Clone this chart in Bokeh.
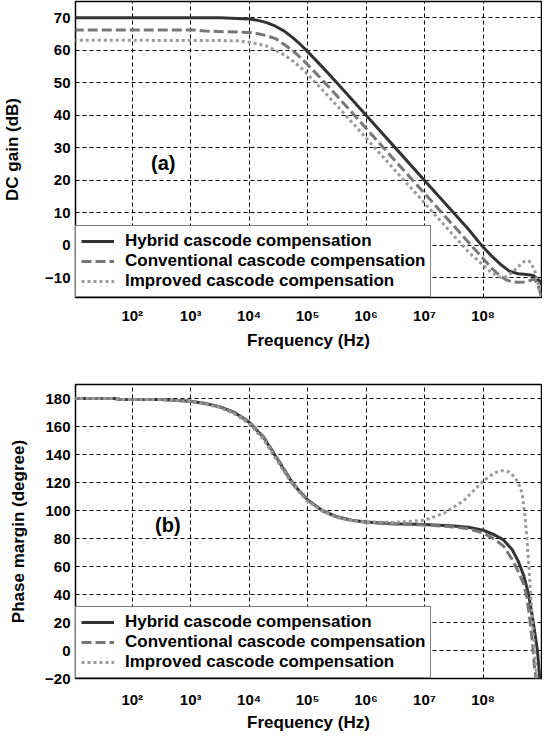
import numpy as np
from bokeh.plotting import figure
from bokeh.layouts import column
from bokeh.models import Range1d, FixedTicker, Label
from bokeh.embed import file_html
from bokeh.resources import INLINE

# ---------------- data ----------------
# x values are log10(frequency / Hz)
gain_hyb_logf = [1.0, 2.0, 3.0, 3.5, 3.8, 4.0, 4.15, 4.3, 4.45, 4.6, 4.75, 4.9, 5.0, 5.25, 5.5, 5.75,
                 6.0, 6.5, 7.0, 7.5, 7.75, 8.0, 8.15, 8.3, 8.45, 8.6, 8.75, 8.85, 8.92, 8.97, 9.0]
gain_hyb = [70.0, 70.0, 70.0, 70.0, 69.8, 69.6, 69.2, 68.5, 67.4, 65.9, 63.8, 61.4, 59.6, 54.9, 50.0, 45.0,
            40.0, 30.0, 20.0, 10.0, 5.0, -0.5, -3.3, -5.8, -7.9, -8.7, -8.9, -9.2, -10.0, -11.0, -12.0]

gain_conv_logf = [1.0, 3.1, 3.25, 4.0, 4.15, 4.3, 4.45, 4.6, 4.75, 4.9, 5.0, 5.25, 5.5, 5.75, 6.0, 6.5,
                  7.0, 7.5, 7.75, 8.0, 8.15, 8.3, 8.4, 8.5, 8.6, 8.7, 8.8, 8.87, 8.93, 8.97, 9.0]
gain_conv = [66.2, 66.2, 65.9, 65.5, 65.1, 64.5, 63.6, 61.8, 59.8, 57.4, 55.6, 50.9, 46.0, 41.0, 36.0, 26.0,
             16.0, 6.0, 1.0, -4.0, -7.0, -9.5, -10.6, -11.2, -11.3, -11.2, -10.8, -10.3, -11.5, -14.0, -16.0]

gain_imp_logf = [1.0, 3.5, 3.8, 4.0, 4.15, 4.3, 4.45, 4.6, 4.75, 4.9, 5.0, 5.25, 5.5, 5.75, 6.0, 6.5,
                 7.0, 7.5, 7.75, 8.0, 8.15, 8.3, 8.4, 8.5, 8.6, 8.7, 8.76, 8.82, 8.88, 8.94, 8.98, 9.0]
gain_imp = [63.1, 63.0, 62.9, 62.5, 62.0, 61.3, 60.0, 58.6, 56.7, 54.4, 52.6, 47.9, 43.0, 38.0, 33.0, 23.0,
            13.0, 3.0, -2.0, -6.0, -8.5, -9.8, -9.6, -8.3, -6.5, -5.0, -4.6, -5.3, -7.5, -11.5, -15.0, -17.0]

phase_hyb_logf = [1.0, 1.7, 1.8, 2.5, 3.0, 3.25, 3.5, 3.75, 4.0, 4.25, 4.5, 4.75, 5.0, 5.25, 5.5, 5.75,
                  6.0, 6.5, 7.0, 7.5, 7.75, 8.0, 8.2, 8.35, 8.5, 8.6, 8.7, 8.78, 8.86, 8.93, 8.97, 9.0]
phase_hyb = [180.0, 180.0, 179.3, 179.2, 178.0, 176.5, 174.0, 170.0, 163.0, 152.0, 135.5, 119.0, 107.5, 100.0,
             95.5, 93.0, 91.8, 90.6, 90.0, 89.0, 88.0, 86.0, 82.5, 79.0, 72.0, 64.0, 53.0, 40.0, 20.0, 0.0, -20.0, -30.0]

phase_conv_logf = [1.0, 1.7, 1.8, 2.5, 3.0, 3.25, 3.5, 3.75, 4.0, 4.25, 4.5, 4.75, 5.0, 5.25, 5.5, 5.75,
                   6.0, 6.5, 7.0, 7.5, 7.75, 8.0, 8.2, 8.35, 8.5, 8.6, 8.7, 8.75, 8.8, 8.85, 8.88, 8.92]
phase_conv = [180.0, 180.0, 179.3, 179.2, 178.0, 176.5, 174.0, 170.0, 163.5, 152.5, 136.0, 119.5, 107.5, 100.0,
              95.5, 93.0, 91.5, 90.3, 89.7, 88.3, 87.0, 84.0, 79.5, 74.5, 65.0, 56.5, 47.0, 38.0, 22.0, 4.0, -12.0, -25.0]

phase_imp_logf = [1.0, 1.7, 1.8, 2.5, 3.0, 3.25, 3.5, 3.75, 4.0, 4.25, 4.5, 4.75, 5.0, 5.25, 5.5, 5.75,
                  6.0, 6.5, 7.0, 7.33, 7.67, 8.0, 8.2, 8.33, 8.45, 8.55, 8.62, 8.67, 8.72, 8.76, 8.8, 8.84, 8.88, 8.92, 8.95]
phase_imp = [180.0, 180.0, 179.3, 179.2, 177.8, 176.0, 173.5, 169.0, 162.0, 150.5, 134.0, 118.0, 106.5, 99.5,
             95.0, 92.8, 91.8, 91.5, 93.0, 98.0, 107.0, 121.0, 127.0, 128.5, 127.5, 123.5, 118.0, 112.0, 95.0, 75.0,
             50.0, 25.0, 0.0, -20.0, -30.0]

series_names = ["Hybrid cascode compensation", "Conventional cascode compensation", "Improved cascode compensation"]
x_ticks = [100, 1000, 10**4, 10**5, 10**6, 10**7, 10**8]
x_tick_labels = ["10\u00b2", "10\u00b3", "10\u2074", "10\u2075", "10\u2076", "10\u2077", "10\u2078"]
gain_ticks = [-10, 0, 10, 20, 30, 40, 50, 60, 70]
phase_ticks = [-20, 0, 20, 40, 60, 80, 100, 120, 140, 160, 180]

# ---------------- styles ----------------
FONT = "Liberation Sans"
styles = [
    dict(line_color="#333333", line_width=3, line_dash="solid"),
    dict(line_color="#777777", line_width=3, line_dash="10 4"),
    dict(line_color="#9a9a9a", line_width=3, line_dash="3 3"),
]


def make_fig(height, mb_left, mb_top, mb_bottom, y_range, y_ticks, ylabel, xlabel_standoff, ticklabel_standoff):
    p = figure(width=542, height=height, x_axis_type="log",
               x_range=Range1d(10 ** 1.03, 1e9), y_range=Range1d(*y_range),
               output_backend="svg", toolbar_location=None,
               min_border_left=mb_left, min_border_right=1, min_border_top=mb_top, min_border_bottom=mb_bottom)
    p.background_fill_color = None
    p.border_fill_color = None
    p.outline_line_color = "black"
    p.outline_line_width = 1.5
    p.outline_line_alpha = 1.0

    xt = FixedTicker(ticks=x_ticks, minor_ticks=[])
    yt = FixedTicker(ticks=y_ticks, minor_ticks=[])
    p.xaxis.ticker = xt
    p.yaxis.ticker = yt
    p.xgrid.ticker = xt
    p.ygrid.ticker = yt
    p.xaxis.major_label_overrides = dict(zip(x_ticks, x_tick_labels))
    for ax in (p.xaxis, p.yaxis):
        ax.axis_line_color = None
        ax.major_tick_line_color = None
        ax.minor_tick_line_color = None
        ax.major_tick_out = 0
        ax.major_tick_in = 0
        ax.major_label_text_font = FONT
        ax.major_label_text_font_style = "bold"
        ax.major_label_text_font_size = "15px"
        ax.major_label_text_color = "black"
        ax.axis_label_text_font = FONT
        ax.axis_label_text_font_style = "bold"
        ax.axis_label_text_font_size = "17px"
        ax.axis_label_text_color = "black"
    p.xaxis.axis_label = "Frequency (Hz)"
    p.yaxis.axis_label = ylabel
    p.xaxis.major_label_standoff = ticklabel_standoff
    p.xaxis.axis_label_standoff = xlabel_standoff
    p.yaxis.major_label_standoff = 5

    for g in (p.xgrid, p.ygrid):
        g.grid_line_color = "black"
        g.grid_line_dash = "4 3"
        g.grid_line_width = 1
        g.grid_line_alpha = 1.0
        g.level = "underlay"
    return p


def style_legend(p):
    lg = p.legend[0]
    lg.location = "bottom_left"
    lg.margin = 0
    lg.padding = 5
    lg.spacing = 0
    lg.label_height = 20
    lg.glyph_height = 20
    lg.glyph_width = 33
    lg.label_standoff = 11
    lg.label_text_font = FONT
    lg.label_text_font_style = "bold"
    lg.label_text_font_size = "17px"
    lg.label_text_color = "black"
    lg.border_line_color = "black"
    lg.border_line_width = 1.5
    lg.background_fill_color = "white"
    lg.background_fill_alpha = 1.0


# ---------------- (a) gain ----------------
p1 = make_fig(352, 64, 1, 55, (-16, 75), gain_ticks, "DC gain (dB)", 4, 9)
p1.yaxis.axis_label_standoff = 20
for lf, vals, name, st in [(gain_hyb_logf, gain_hyb, series_names[0], styles[0]),
                           (gain_conv_logf, gain_conv, series_names[1], styles[1]),
                           (gain_imp_logf, gain_imp, series_names[2], styles[2])]:
    p1.line(10 ** np.array(lf), vals, legend_label=name, **st)
style_legend(p1)
p1.add_layout(Label(x=10 ** 2.53, y=25.5, text="(a)", text_font=FONT, text_font_style="bold",
                    text_font_size="20px", text_align="center", text_baseline="middle", text_color="black"))

# ---------------- (b) phase ----------------
p2 = make_fig(382, 62, 32, 52, (-20, 190), phase_ticks, "Phase margin (degree)", 2, 12)
p2.yaxis.axis_label_standoff = 14
for lf, vals, name, st in [(phase_hyb_logf, phase_hyb, series_names[0], styles[0]),
                           (phase_conv_logf, phase_conv, series_names[1], styles[1]),
                           (phase_imp_logf, phase_imp, series_names[2], styles[2])]:
    p2.line(10 ** np.array(lf), vals, legend_label=name, **st)
style_legend(p2)
p2.add_layout(Label(x=10 ** 2.61, y=90, text="(b)", text_font=FONT, text_font_style="bold",
                    text_font_size="20px", text_align="center", text_baseline="middle", text_color="black"))

layout = column(p1, p2, spacing=0, margin=(0, 0, -8, 0))
open("out.html", "w").write(file_html(layout, INLINE))
